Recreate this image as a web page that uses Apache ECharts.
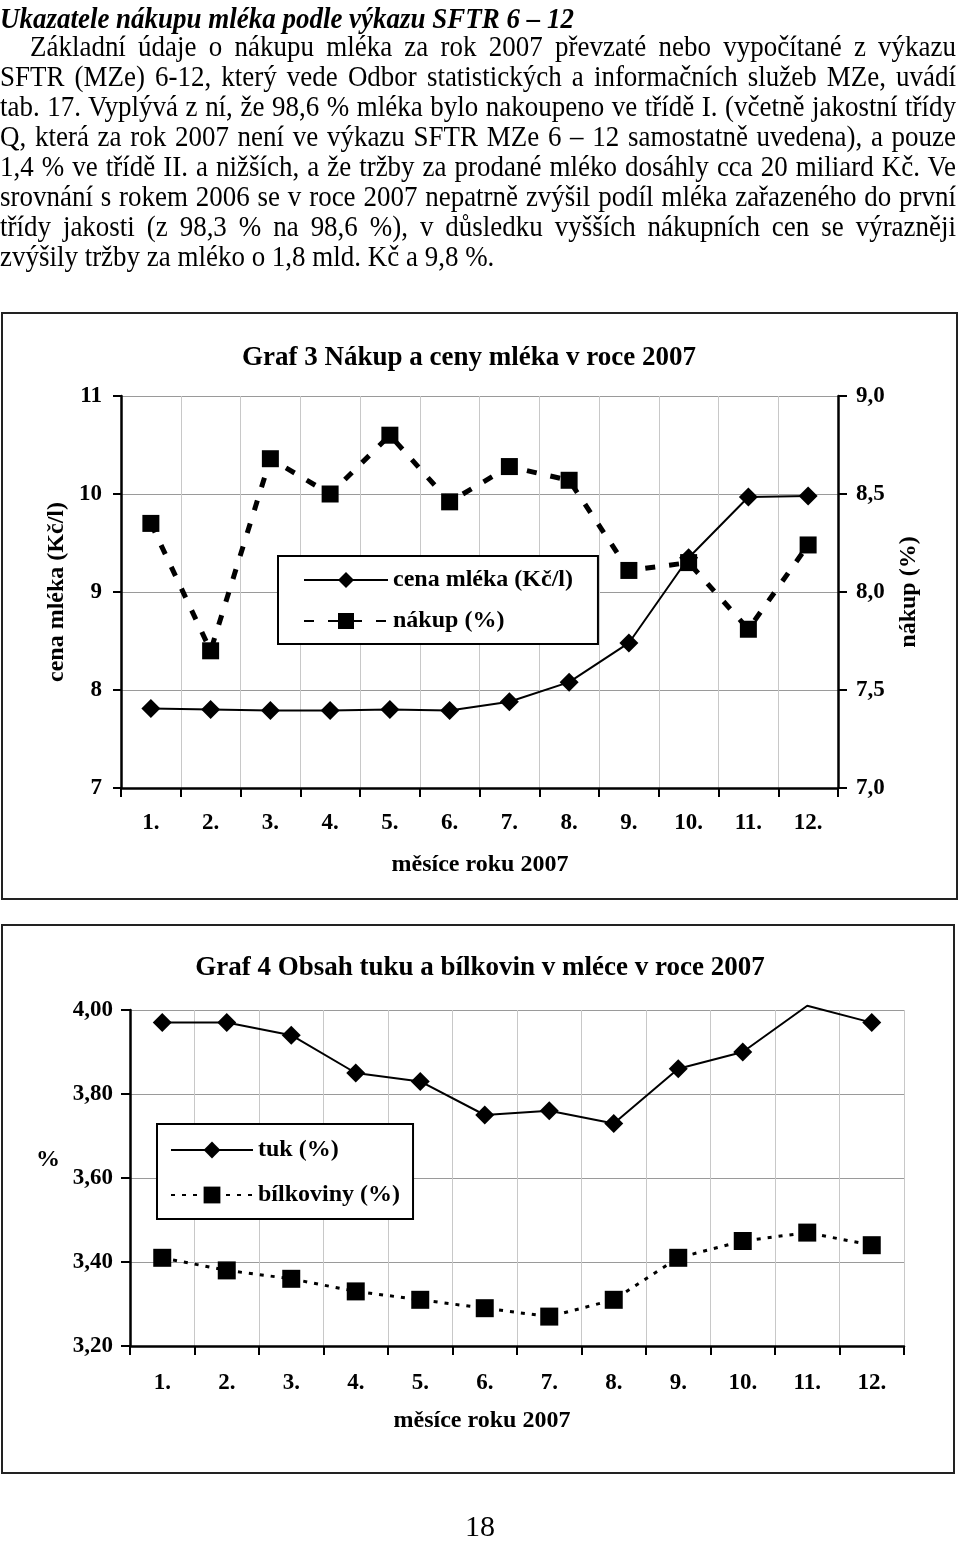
<!DOCTYPE html>
<html>
<head>
<meta charset="utf-8">
<script src="https://cdn.jsdelivr.net/npm/echarts@6/dist/echarts.min.js"></script>
<style>
  html, body { margin: 0; padding: 0; background: #fff; }
  #page { position: relative; width: 960px; height: 1544px; overflow: hidden; }
  #chart { position: absolute; left: 0; top: 0; width: 960px; height: 1544px; }
  #para { position: absolute; left: 0; top: 0; width: 960px; height: 290px; z-index: 2; font-family: 'Liberation Serif', 'Times New Roman', serif; color: #000; }
  .ln { position: absolute; white-space: nowrap; line-height: 30px; font-size: 29px; transform-origin: 0 50%; }
</style>
</head>
<body>
<div id="page">
  <div id="chart"></div>
  <div id="para"></div>
</div>
<script>
// ---------- data ----------
const months = ['1.', '2.', '3.', '4.', '5.', '6.', '7.', '8.', '9.', '10.', '11.', '12.'];
const cenaMleka = [7.81, 7.80, 7.79, 7.79, 7.80, 7.79, 7.88, 8.08, 8.48, 9.35, 9.97, 9.98];
const nakup = [8.35, 7.70, 8.68, 8.50, 8.80, 8.46, 8.64, 8.57, 8.11, 8.15, 7.81, 8.24];
const tuk = [3.97, 3.97, 3.94, 3.85, 3.83, 3.75, 3.76, 3.73, 3.86, 3.90, 4.01, 3.97];
const bilkoviny = [3.41, 3.38, 3.36, 3.33, 3.31, 3.29, 3.27, 3.31, 3.41, 3.45, 3.47, 3.44];
const seriesNames = ['cena mléka (Kč/l)', 'nákup (%)', 'tuk (%)', 'bílkoviny (%)'];
const titles = ['Graf 3 Nákup a ceny mléka v roce 2007', 'Graf 4 Obsah tuku a bílkovin v mléce v roce 2007'];
const xAxisTitle = 'měsíce roku 2007';

const paraTitle = 'Ukazatele nákupu mléka podle výkazu SFTR 6 – 12';
const paraLines = [
  'Základní údaje o nákupu mléka za rok 2007 převzaté nebo vypočítané z výkazu',
  'SFTR (MZe) 6-12, který vede Odbor statistických a informačních služeb MZe, uvádí',
  'tab. 17. Vyplývá z ní, že 98,6 % mléka bylo nakoupeno ve třídě I. (včetně jakostní třídy',
  'Q, která za rok 2007 není ve výkazu SFTR MZe 6 – 12 samostatně uvedena), a pouze',
  '1,4 % ve třídě II. a nižších, a že tržby za prodané mléko dosáhly cca 20 miliard Kč. Ve',
  'srovnání s rokem 2006 se v roce 2007 nepatrně zvýšil podíl mléka zařazeného do první',
  'třídy jakosti (z 98,3 % na 98,6 %), v důsledku vyšších nákupních cen se výrazněji',
  'zvýšily tržby za mléko o 1,8 mld. Kč a 9,8 %.'
];
const pageNumber = '18';

// ---------- paragraph text (HTML) ----------
(function () {
  const para = document.getElementById('para');
  const hScale = 0.93;
  function addLine(text, left, right, cy, justify, extraStyle) {
    const d = document.createElement('div');
    d.className = 'ln';
    d.style.left = left + 'px';
    d.style.top = (cy - 15) + 'px';
    if (extraStyle) Object.assign(d.style, extraStyle);
    const s = document.createElement('span');
    s.textContent = text;
    d.appendChild(s);
    para.appendChild(d);
    const w = s.getBoundingClientRect().width;
    const target = (right - left) / hScale;
    let sc = hScale;
    if (justify) {
      if (w > target) {
        sc = (right - left) / w;
      } else {
        const n = (text.match(/ /g) || []).length;
        if (n > 0) s.style.wordSpacing = ((target - w) / n) + 'px';
      }
    }
    d.style.transform = 'scaleX(' + sc + ')';
  }
  addLine(paraTitle, 0, 580, 18, false, { fontWeight: 'bold', fontStyle: 'italic' });
  const ys = [46, 76, 106, 136, 166, 196, 226, 256];
  paraLines.forEach((t, i) => {
    const left = i === 0 ? 30 : 0;
    addLine(t, left, 956, ys[i], i < paraLines.length - 1);
  });
})();

// ---------- chart ----------
const FONT = "'Liberation Serif', 'Times New Roman', serif";
const bold = (size) => ({ fontFamily: FONT, fontWeight: 'bold', fontSize: size, color: '#000' });

const chart = echarts.init(document.getElementById('chart'), null, { renderer: 'canvas' });

const catAxis = (gridIndex, margin) => ({
  gridIndex,
  type: 'category',
  data: months,
  boundaryGap: true,
  axisLine: { show: true, lineStyle: { color: '#000', width: 2.5 } },
  axisTick: { show: true, inside: false, length: 9, interval: 0, lineStyle: { color: '#000', width: 2 } },
  axisLabel: Object.assign({ margin, interval: 0 }, bold(23)),
  splitLine: { show: true, interval: 0, lineStyle: { color: '#c8c8c8', width: 1 } }
});

const yMaxTuk = 4.0;

const option = {
  animation: false,
  backgroundColor: 'transparent',
  grid: [
    { left: 121, top: 396, width: 717, height: 392, containLabel: false },
    { left: 130, top: 1010, width: 774, height: 336, containLabel: false }
  ],
  xAxis: [catAxis(0, 24), catAxis(1, 26)],
  yAxis: [
    {
      gridIndex: 0, type: 'value', position: 'left', min: 7, max: 11, interval: 1,
      axisLine: { show: true, lineStyle: { color: '#000', width: 2.5 } },
      axisTick: { show: true, length: 8, lineStyle: { color: '#000', width: 2 } },
      axisLabel: Object.assign({ margin: 19, formatter: (v) => String(v) }, bold(23)),
      splitLine: { show: true, lineStyle: { color: '#9a9a9a', width: 1 } }
    },
    {
      gridIndex: 0, type: 'value', position: 'right', min: 7, max: 9, interval: 0.5,
      axisLine: { show: true, lineStyle: { color: '#000', width: 2.5 } },
      axisTick: { show: true, length: 9, lineStyle: { color: '#000', width: 2 } },
      axisLabel: Object.assign({ margin: 18, formatter: (v) => v.toFixed(1).replace('.', ',') }, bold(23)),
      splitLine: { show: false }
    },
    {
      gridIndex: 1, type: 'value', position: 'left', min: 3.2, max: yMaxTuk, interval: 0.2,
      axisLine: { show: true, lineStyle: { color: '#000', width: 2.5 } },
      axisTick: { show: true, length: 9, lineStyle: { color: '#000', width: 2 } },
      axisLabel: Object.assign({ margin: 17, formatter: (v) => v.toFixed(2).replace('.', ',') }, bold(23)),
      splitLine: { show: true, lineStyle: { color: '#9a9a9a', width: 1 } }
    }
  ],
  legend: [
    {
      data: [seriesNames[0], seriesNames[1]],
      orient: 'vertical', left: 278, top: 556,
      padding: [12, 25, 11, 25],
      itemWidth: 84, itemHeight: 20, itemGap: 17,
      borderColor: '#000', borderWidth: 2, backgroundColor: '#fff',
      selectedMode: false,
      textStyle: Object.assign({ lineHeight: 20 }, bold(24))
    },
    {
      data: [seriesNames[2], seriesNames[3]],
      orient: 'vertical', left: 157, top: 1124,
      padding: [14, 13, 12, 13],
      itemWidth: 82, itemHeight: 21, itemGap: 21,
      borderColor: '#000', borderWidth: 2, backgroundColor: '#fff',
      selectedMode: false,
      textStyle: Object.assign({ lineHeight: 21 }, bold(24))
    }
  ],
  series: [
    {
      name: seriesNames[0], type: 'line', xAxisIndex: 0, yAxisIndex: 0,
      data: cenaMleka, symbol: 'diamond', symbolSize: 19, showAllSymbol: true,
      lineStyle: { color: '#000', width: 2 }, itemStyle: { color: '#000' }, z: 3
    },
    {
      name: seriesNames[1], type: 'line', xAxisIndex: 0, yAxisIndex: 1,
      data: nakup, symbol: 'rect', symbolSize: 17, showAllSymbol: true,
      lineStyle: { color: '#000', width: 5, type: [10, 14] }, itemStyle: { color: '#000' }, z: 2
    },
    {
      name: seriesNames[2], type: 'line', xAxisIndex: 1, yAxisIndex: 2, clip: false,
      data: tuk.map((v) => (v > yMaxTuk ? { value: v, symbol: 'none' } : v)),
      symbol: 'diamond', symbolSize: 19, showAllSymbol: true,
      lineStyle: { color: '#000', width: 2 }, itemStyle: { color: '#000' }, z: 3
    },
    {
      name: seriesNames[3], type: 'line', xAxisIndex: 1, yAxisIndex: 2,
      data: bilkoviny, symbol: 'rect', symbolSize: 18, showAllSymbol: true,
      lineStyle: { color: '#000', width: 3, type: [4, 7] }, itemStyle: { color: '#000' }, z: 2
    }
  ],
  graphic: [
    { type: 'rect', shape: { x: 2, y: 313, width: 955, height: 586 }, style: { fill: 'none', stroke: '#222', lineWidth: 2 }, z: 0, silent: true },
    { type: 'rect', shape: { x: 2, y: 925, width: 952, height: 548 }, style: { fill: 'none', stroke: '#222', lineWidth: 2 }, z: 0, silent: true },
    { type: 'text', x: 469, y: 358, style: { text: titles[0], align: 'center', verticalAlign: 'middle', textAlign: 'center', textVerticalAlign: 'middle', font: "bold 27px 'Liberation Serif'", fill: '#000' } },
    { type: 'text', x: 480, y: 968, style: { text: titles[1], align: 'center', verticalAlign: 'middle', textAlign: 'center', textVerticalAlign: 'middle', font: "bold 27px 'Liberation Serif'", fill: '#000' } },
    { type: 'text', x: 480, y: 865, style: { text: xAxisTitle, align: 'center', verticalAlign: 'middle', textAlign: 'center', textVerticalAlign: 'middle', font: "bold 24px 'Liberation Serif'", fill: '#000' } },
    { type: 'text', x: 482, y: 1421, style: { text: xAxisTitle, align: 'center', verticalAlign: 'middle', textAlign: 'center', textVerticalAlign: 'middle', font: "bold 24px 'Liberation Serif'", fill: '#000' } },
    { type: 'text', x: 57, y: 592, rotation: Math.PI / 2, style: { text: seriesNames[0], align: 'center', verticalAlign: 'middle', textAlign: 'center', textVerticalAlign: 'middle', font: "bold 24px 'Liberation Serif'", fill: '#000' } },
    { type: 'text', x: 909, y: 592, rotation: Math.PI / 2, style: { text: seriesNames[1], align: 'center', verticalAlign: 'middle', textAlign: 'center', textVerticalAlign: 'middle', font: "bold 24px 'Liberation Serif'", fill: '#000' } },
    { type: 'text', x: 48, y: 1160, style: { text: '%', align: 'center', verticalAlign: 'middle', textAlign: 'center', textVerticalAlign: 'middle', font: "bold 24px 'Liberation Serif'", fill: '#000' } },
    { type: 'text', x: 480, y: 1528, style: { text: pageNumber, align: 'center', verticalAlign: 'middle', textAlign: 'center', textVerticalAlign: 'middle', font: "30px 'Liberation Serif'", fill: '#000' } }
  ]
};
chart.setOption(option);
</script>
</body>
</html>
